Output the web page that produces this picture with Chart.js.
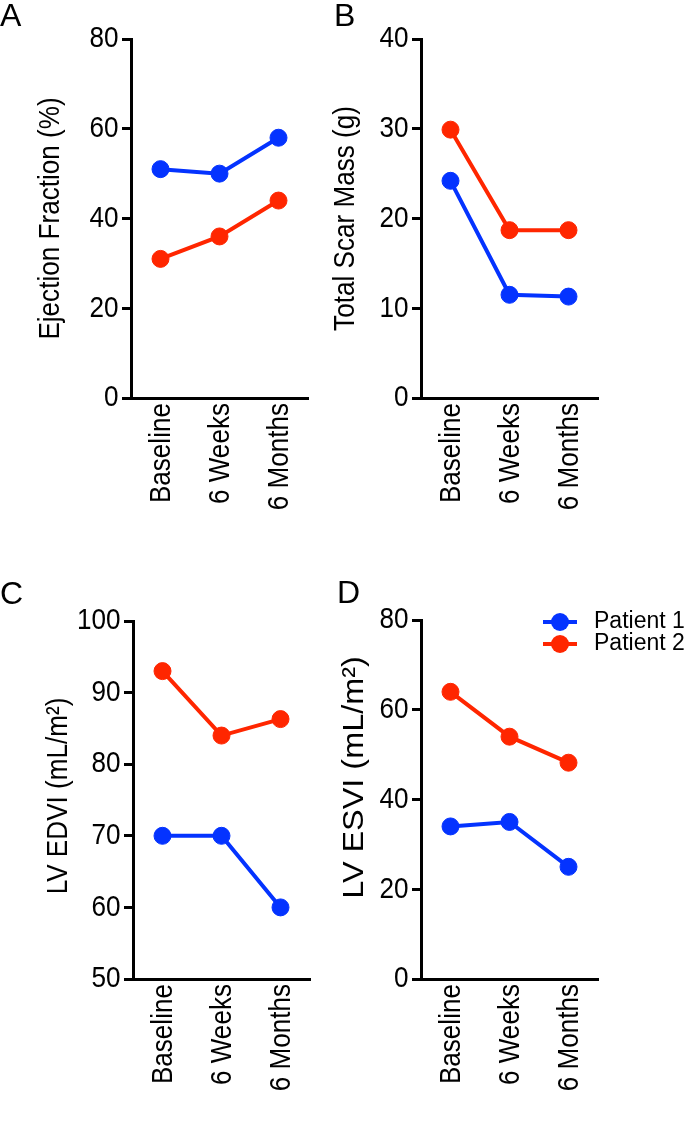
<!DOCTYPE html>
<html>
<head>
<meta charset="utf-8">
<title>Patient outcomes</title>
<script src="https://cdn.jsdelivr.net/npm/chart.js@4.4.1/dist/chart.umd.min.js"></script>
<style>
  html, body { margin: 0; padding: 0; background: #fff; }
  #page { position: relative; width: 685px; height: 1140px; overflow: hidden; }
  .panel { position: absolute; }
  .panel canvas { display: block; }
  .letter {
    position: absolute;
    font-family: 'Liberation Sans', Arial, Helvetica, sans-serif;
    font-size: 32px;
    line-height: 1;
    color: #000;
  }
</style>
</head>
<body>
<div id="page">
  <div class="panel" style="left:0px;top:0px"><canvas id="chartA" width="330" height="570"></canvas></div>
  <div class="panel" style="left:322px;top:0px"><canvas id="chartB" width="363" height="570"></canvas></div>
  <div class="panel" style="left:0px;top:570px"><canvas id="chartC" width="330" height="570"></canvas></div>
  <div class="panel" style="left:322px;top:570px"><canvas id="chartD" width="363" height="570"></canvas></div>
  <div class="letter" style="left:0px;top:-1px">A</div>
  <div class="letter" style="left:334px;top:-1px">B</div>
  <div class="letter" style="left:0px;top:577px">C</div>
  <div class="letter" style="left:337px;top:576px">D</div>
</div>
<script>
// data
const timepoints = ['Baseline', '6 Weeks', '6 Months'];
const seriesNames = ['Patient 1', 'Patient 2'];
const efPatient1 = [51, 50, 58];
const efPatient2 = [31, 36, 44];
const scarPatient1 = [24.2, 11.5, 11.3];
const scarPatient2 = [29.9, 18.7, 18.7];
const edviPatient1 = [70, 70, 60];
const edviPatient2 = [93, 84, 86.3];
const esviPatient1 = [34, 35, 25];
const esviPatient2 = [64, 54, 48.2];

const BLUE = '#0433FF';
const RED = '#FF2600';
const FONT = "'Liberation Sans', Arial, Helvetica, sans-serif";
// the figure's axis text is a narrower face than Arial, so squeeze it a bit
const TEXT_SIZE = 30;
const SQUEEZE = 0.87;

function drawSqueezed(ctx, text, x, y, rotation, align, squeeze) {
    ctx.save();
    ctx.translate(x, y);
    ctx.rotate(rotation);
    ctx.scale(squeeze || SQUEEZE, 1);
    ctx.textAlign = align;
    ctx.textBaseline = 'middle';
    ctx.fillText(text, 0, 0);
    ctx.restore();
}

// tick labels and axis title, placed from the chart's own scales
const axisText = {
    id: 'axisText',
    afterDraw(chart) {
        const ctx = chart.ctx;
        const area = chart.chartArea;
        const xs = chart.scales.x;
        const ys = chart.scales.y;
        const cfg = chart.options.plugins.axisText;
        ctx.save();
        ctx.fillStyle = '#000';
        ctx.font = TEXT_SIZE + 'px ' + FONT;
        ys.ticks.forEach((t, i) => {
            drawSqueezed(ctx, t.label, area.left - 12.5, ys.getPixelForTick(i), 0, 'right');
        });
        xs.ticks.forEach((t, i) => {
            drawSqueezed(ctx, xs.getLabelForValue(t.value), xs.getPixelForTick(i) + 1, area.bottom + 5, -Math.PI / 2, 'right');
        });
        const midY = (area.top + area.bottom) / 2 + (cfg.titleShift || 0);
        drawSqueezed(ctx, cfg.title, cfg.titleX, midY, -Math.PI / 2, 'center', cfg.titleSqueeze);
        ctx.restore();
    }
};

// legend drawn inside panel D, right of the plot area
const insideLegend = {
    id: 'insideLegend',
    afterDraw(chart) {
        const ctx = chart.ctx;
        const area = chart.chartArea;
        ctx.save();
        chart.data.datasets.forEach((ds, i) => {
            const y = area.top + 2 + i * 22;
            const x0 = area.right - 55;
            const x1 = area.right - 21;
            ctx.strokeStyle = ds.borderColor;
            ctx.lineWidth = 4;
            ctx.beginPath();
            ctx.moveTo(x0, y);
            ctx.lineTo(x1, y);
            ctx.stroke();
            ctx.fillStyle = ds.borderColor;
            ctx.beginPath();
            ctx.arc((x0 + x1) / 2, y, 9, 0, Math.PI * 2);
            ctx.fill();
            ctx.fillStyle = '#000';
            ctx.font = '23px ' + FONT;
            ctx.textAlign = 'left';
            ctx.textBaseline = 'middle';
            ctx.fillText(ds.label, area.right - 4, y);
        });
        ctx.restore();
    }
};

function makeDataset(label, values, color) {
    return {
        label: label,
        data: values,
        borderColor: color,
        backgroundColor: color,
        borderWidth: 4,
        pointRadius: 8.5,
        pointBorderWidth: 1,
        pointBorderColor: color,
        pointBackgroundColor: color,
        tension: 0,
        clip: false
    };
}

function createPanel(cfg) {
    const canvas = document.getElementById(cfg.id);
    const plugins = [axisText];
    if (cfg.legend) plugins.push(insideLegend);
    return new Chart(canvas, {
        type: 'line',
        data: {
            labels: timepoints,
            datasets: [
                makeDataset(seriesNames[0], cfg.p1, BLUE),
                makeDataset(seriesNames[1], cfg.p2, RED)
            ]
        },
        options: {
            responsive: false,
            animation: false,
            devicePixelRatio: 1,
            layout: {
                padding: { top: cfg.top, right: cfg.right, left: 0, bottom: 0 }
            },
            plugins: {
                legend: { display: false },
                tooltip: { enabled: false },
                axisText: {
                    title: cfg.title,
                    titleX: cfg.titleX,
                    titleShift: cfg.titleShift,
                    titleSqueeze: cfg.titleSqueeze
                }
            },
            scales: {
                x: {
                    type: 'category',
                    offset: true,
                    grid: { display: false },
                    border: { display: true, color: '#000', width: 3 },
                    ticks: { display: false, autoSkip: false },
                    afterFit: (scale) => { scale.height = cfg.xHeight; }
                },
                y: {
                    min: cfg.min,
                    max: cfg.max,
                    grid: {
                        display: true,
                        drawOnChartArea: false,
                        drawTicks: true,
                        tickLength: 9,
                        tickWidth: 3,
                        tickColor: '#000'
                    },
                    border: { display: true, color: '#000', width: 3 },
                    ticks: { display: false, stepSize: cfg.step },
                    afterFit: (scale) => { scale.width = cfg.yWidth; }
                }
            }
        },
        plugins: plugins
    });
}

const panels = [
    { id: 'chartA', title: 'Ejection Fraction (%)', p1: efPatient1, p2: efPatient2,
      min: 0, max: 80, step: 20, yWidth: 131, top: 39, right: 22, xHeight: 172, titleX: 51 },
    { id: 'chartB', title: 'Total Scar Mass (g)', p1: scarPatient1, p2: scarPatient2,
      min: 0, max: 40, step: 10, yWidth: 99, top: 39, right: 87, xHeight: 172, titleX: 23.5 },
    { id: 'chartC', title: 'LV EDVI (mL/m\u00B2)', p1: edviPatient1, p2: edviPatient2,
      min: 50, max: 100, step: 10, yWidth: 133, top: 51, right: 20, xHeight: 161, titleX: 59,
      titleShift: -4 },
    { id: 'chartD', title: 'LV ESVI (mL/m\u00B2)', p1: esviPatient1, p2: esviPatient2,
      min: 0, max: 80, step: 20, yWidth: 99, top: 50, right: 87, xHeight: 161, titleX: 32.5,
      titleShift: -22, titleSqueeze: 1.08, legend: true }
];

const charts = panels.map(createPanel);
</script>
</body>
</html>
